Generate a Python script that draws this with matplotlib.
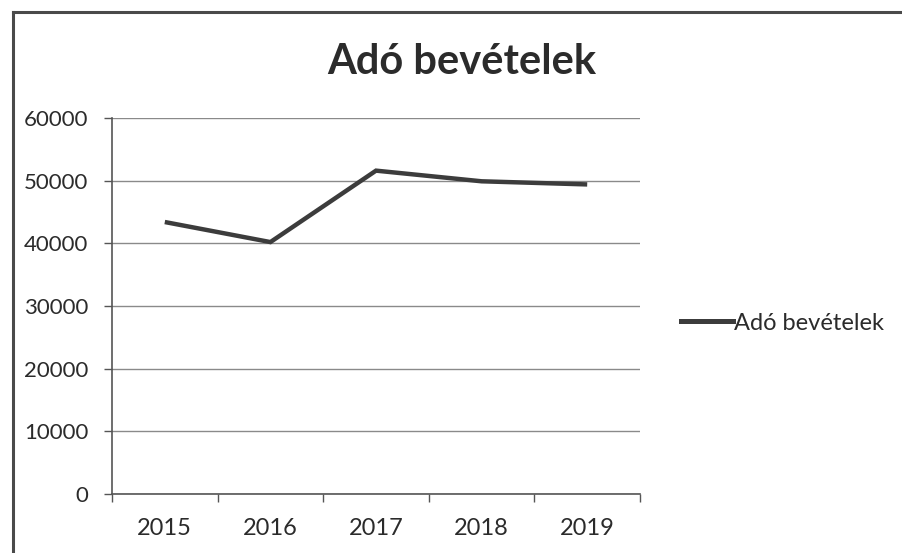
import matplotlib.pyplot as plt
from matplotlib.lines import Line2D

# data
years = ["2015", "2016", "2017", "2018", "2019"]
tax_income = [43400, 40200, 51600, 49900, 49400]
y_ticks = [0, 10000, 20000, 30000, 40000, 50000, 60000]

TEXT = "#2b2b2b"
LINE = "#3c3c3c"
GRID = "#8a8a8a"

plt.rcParams['font.family'] = ['Lato', 'DejaVu Sans']

W, H = 902, 553
fig = plt.figure(figsize=(W / 100, H / 100), dpi=100)
fig.patch.set_facecolor("white")

# plot area in pixel terms
left, right, top, bottom = 112, 640, 118, 494
ax = fig.add_axes([left / W, 1 - bottom / H, (right - left) / W, (bottom - top) / H])

xs = list(range(len(years)))
ax.plot(xs, tax_income, color=LINE, lw=3.2, solid_capstyle="butt",
        solid_joinstyle="miter", label="Adó bevételek")

ax.set_xlim(-0.5, len(years) - 0.5)
ax.set_ylim(0, 60000)
ax.set_yticks(y_ticks)
ax.set_yticklabels([str(v) for v in y_ticks], fontsize=16, color=TEXT)
ax.yaxis.grid(True, color=GRID, lw=1.0)
ax.set_axisbelow(True)

# category boundaries get tick marks, labels sit between them
ax.set_xticks([i - 0.5 for i in range(len(years) + 1)])
ax.set_xticklabels([])
ax.set_xticks(xs, minor=True)
ax.set_xticklabels(years, minor=True, fontsize=17, color=TEXT)
ax.tick_params(axis="x", which="major", length=6, width=1, color="#555555", direction="out")
ax.tick_params(axis="x", which="minor", length=0, pad=17)
ax.tick_params(axis="y", length=6, width=1, color="#555555", pad=11)

for s in ["top", "right"]:
    ax.spines[s].set_visible(False)
ax.spines["left"].set_color("#555555")
ax.spines["bottom"].set_color("#555555")
ax.spines["left"].set_linewidth(1.2)
ax.spines["bottom"].set_linewidth(1.2)

fig.text(462 / W, 1 - 62 / H, "Adó bevételek", ha="center", va="center",
         fontsize=30, fontweight="bold", color=TEXT)

leg = fig.legend(handles=[Line2D([], [], color=LINE, lw=3.6)], labels=["Adó bevételek"],
                 loc="center left", bbox_to_anchor=(660 / W, 1 - 323 / H),
                 frameon=False, fontsize=17, handlelength=2.2, handletextpad=0.05,
                 labelcolor=TEXT)

# outer chart frame (top and left edges visible in the scan)
fig.add_artist(Line2D([13 / W, 1.0], [1 - 12 / H, 1 - 12 / H], color="#4a4a4a", lw=2.2,
                      transform=fig.transFigure))
fig.add_artist(Line2D([13 / W, 13 / W], [1 - 12 / H, 0.0], color="#4a4a4a", lw=2.2,
                      transform=fig.transFigure))

fig.savefig("out.png", dpi=100)
